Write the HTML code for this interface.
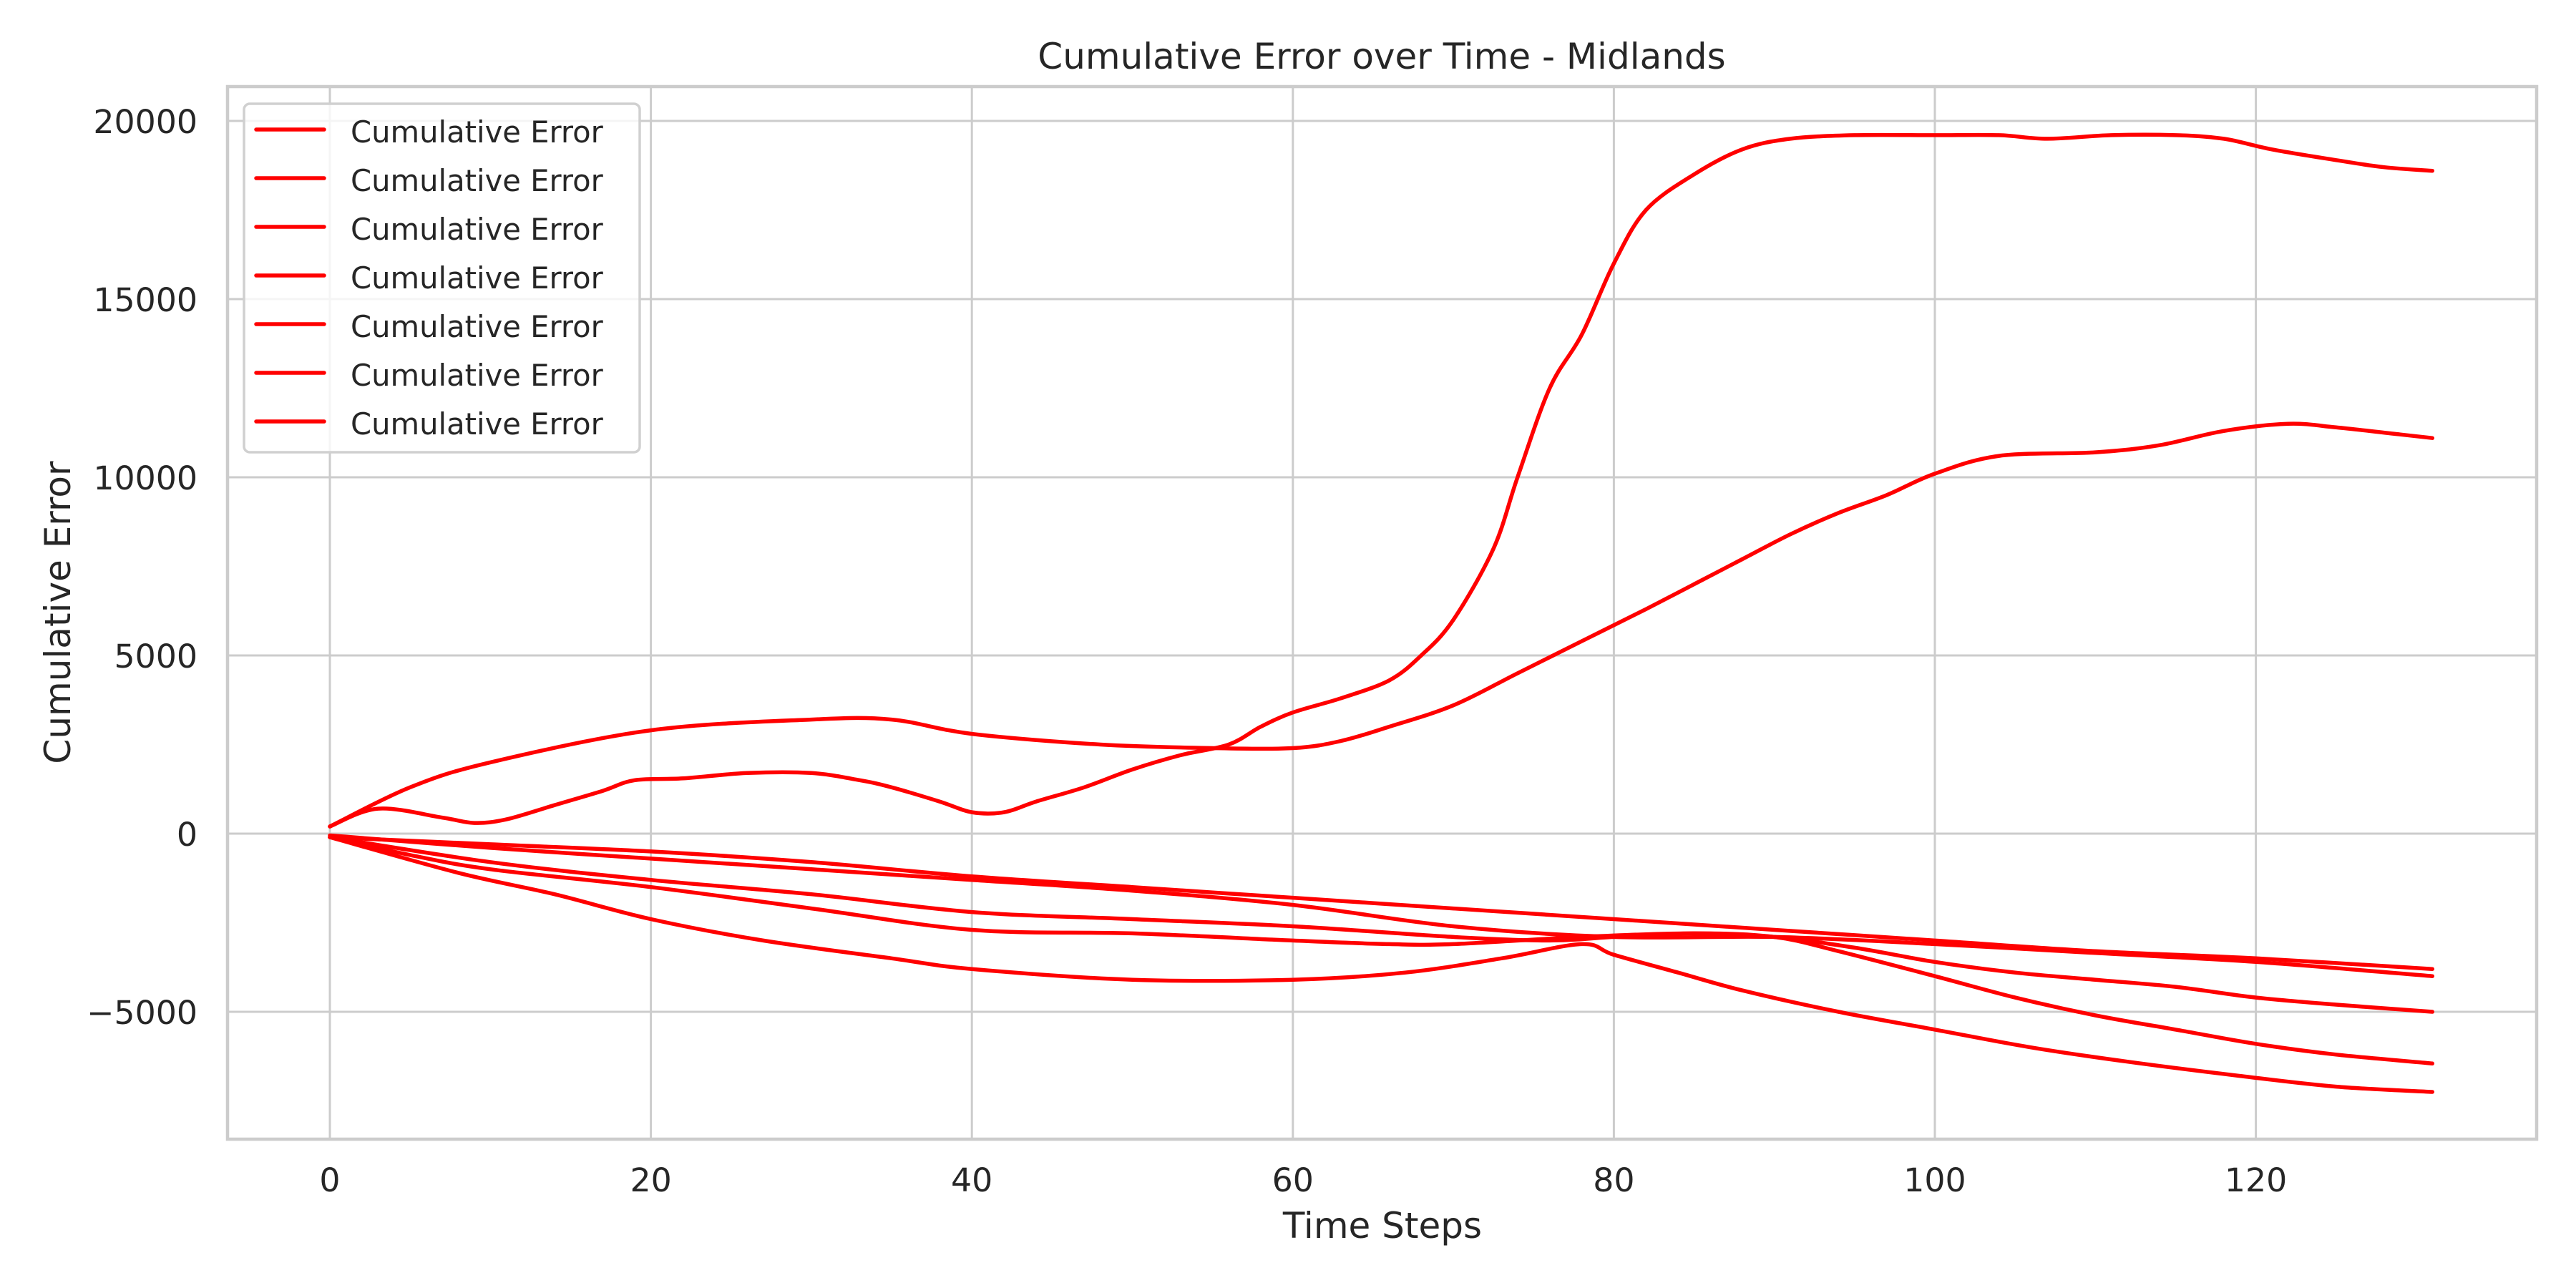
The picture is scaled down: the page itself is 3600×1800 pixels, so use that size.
<!DOCTYPE html>
<html><head><meta charset="utf-8"><style>
html,body{margin:0;padding:0;background:#fff;}
svg{display:block;font-family:"DejaVu Sans","Liberation Sans",sans-serif;}
</style></head><body>
<svg id="chart" width="3600" height="1800" viewBox="0 0 3600 1800" xmlns="http://www.w3.org/2000/svg">
<rect x="0" y="0" width="3600" height="1800" fill="#fff"/>
<g id="grid"></g>
<g id="series"></g>
<rect x="318" y="121" width="3227" height="1471" fill="none" stroke="#cccccc" stroke-width="4.5"/>
<g id="ticks" font-size="45.8" fill="#262626"></g>
<text x="1931" y="96" text-anchor="middle" font-size="50" fill="#262626">Cumulative Error over Time - Midlands</text>
<text x="1932" y="1730" text-anchor="middle" font-size="50" fill="#262626">Time Steps</text>
<text transform="translate(98,856) rotate(-90)" text-anchor="middle" font-size="50" fill="#262626">Cumulative Error</text>
<g id="legend"></g>
</svg>
<script>
const xTicks=[0,20,40,60,80,100,120];
const yTicks=[-5000,0,5000,10000,15000,20000];
const yTickLabels=["\u22125000","0","5000","10000","15000","20000"];
const seriesNames=["Cumulative Error","Cumulative Error","Cumulative Error","Cumulative Error","Cumulative Error","Cumulative Error","Cumulative Error"];
const aX=[0,3,7,9,11,14,17,19,22,26,30,33,35,38,40,42,44,47,50,53,56,58,60,63,66,68,70,72.5,74,76,78,80,82,85,88,91,95,100,104,107,111,115,118,121,125,128,131];
const aY=[200,700,450,300,400,800,1200,1500,1550,1700,1700,1500,1300,900,600,600,900,1300,1800,2200,2500,3000,3400,3800,4300,5000,6000,8000,10000,12500,14000,16000,17500,18500,19200,19500,19600,19600,19600,19500,19600,19600,19500,19200,18900,18700,18600];
const bX=[0,5,10,20,30,35,40,48,55,60,63,66,70,74,78,82,85,88,91,94,97,100,104,110,114,118,122,125,129,131];
const bY=[200,1300,2000,2900,3200,3200,2800,2500,2400,2400,2600,3000,3600,4500,5400,6300,7000,7700,8400,9000,9500,10100,10600,10700,10900,11300,11500,11400,11200,11100];
const cX=[0,10,20,30,40,50,60,70,80,90,100,110,120,131];
const cY=[-100,-300,-500,-800,-1200,-1500,-1800,-2100,-2400,-2700,-3000,-3300,-3500,-3800];
const dX=[0,10,20,30,40,50,60,70,80,90,100,110,120,131];
const dY=[-50,-400,-700,-1000,-1300,-1600,-2000,-2600,-2900,-2900,-3100,-3350,-3600,-4000];
const eX=[0,10,20,30,40,50,60,70,76,80,85,90,95,100,105,110,115,120,125,131];
const eY=[-100,-800,-1300,-1700,-2200,-2400,-2600,-2900,-3000,-2900,-2800,-2900,-3200,-3600,-3900,-4100,-4300,-4600,-4800,-5000];
const fX=[0,5,10,20,30,40,50,60,66,70,78,85,90,94,100,105,110,115,120,125,131];
const fY=[-100,-600,-1000,-1500,-2100,-2700,-2800,-3000,-3100,-3100,-2900,-2800,-2900,-3300,-4000,-4600,-5100,-5500,-5900,-6200,-6450];
const gX=[0,8,14,20,27,35,40,50,60,67,73,78,80,84,88,94,100,106,112,119,125,131];
const gY=[-100,-1100,-1700,-2400,-3000,-3500,-3800,-4100,-4100,-3900,-3500,-3100,-3400,-3900,-4400,-5000,-5500,-6000,-6400,-6800,-7100,-7250];
const allX=[aX,bX,cX,dX,eX,fX,gX], allY=[aY,bY,cY,dY,eY,fY,gY];
const NS="http://www.w3.org/2000/svg";
function sx(v){return 461+v*22.43;}
function sy(v){return 1165-v*249/5000;}
function mk(t,attrs,parent){const e=document.createElementNS(NS,t);for(const k in attrs)e.setAttribute(k,attrs[k]);parent.appendChild(e);return e;}
function smoothPath(pts){
  let d='M'+pts[0][0].toFixed(1)+' '+pts[0][1].toFixed(1);
  for(let i=0;i<pts.length-1;i++){
    const p0=pts[Math.max(0,i-1)],p1=pts[i],p2=pts[i+1],p3=pts[Math.min(pts.length-1,i+2)];
    const c1=[p1[0]+(p2[0]-p0[0])/6,p1[1]+(p2[1]-p0[1])/6];
    const c2=[p2[0]-(p3[0]-p1[0])/6,p2[1]-(p3[1]-p1[1])/6];
    d+=' C'+c1[0].toFixed(1)+' '+c1[1].toFixed(1)+' '+c2[0].toFixed(1)+' '+c2[1].toFixed(1)+' '+p2[0].toFixed(1)+' '+p2[1].toFixed(1);
  }
  return d;
}
const grid=document.getElementById('grid'),ticks=document.getElementById('ticks'),ser=document.getElementById('series'),leg=document.getElementById('legend');
xTicks.forEach(t=>{const l=mk('line',{x1:sx(t),x2:sx(t),y1:121,y2:1592,stroke:'#cccccc','stroke-width':3},grid);


const tx=mk('text',{x:sx(t),y:1665,'text-anchor':'middle'},ticks);tx.textContent=t;

});
yTicks.forEach((t,i)=>{const l=mk('line',{x1:318,x2:3545,y1:sy(t),y2:sy(t),stroke:'#cccccc','stroke-width':3},grid);


const tx=mk('text',{x:276,y:sy(t)+17,'text-anchor':'end'},ticks);tx.textContent=yTickLabels[i];

});
allX.forEach((xs,i)=>{const pts=xs.map((x,j)=>[sx(x),sy(allY[i][j])]);
const p=mk('path',{d:smoothPath(pts),fill:'none',stroke:'#ff0000','stroke-width':5.5,'stroke-linejoin':'round','stroke-linecap':'round'},ser);

});
const box=mk('rect',{x:341,y:145,width:553,height:487,rx:8,fill:'#fff','fill-opacity':0.8,stroke:'#d0d0d0','stroke-width':3.5},leg);


seriesNames.forEach((n,i)=>{const y=181+i*68;
const g=mk('g',{},leg);


mk('line',{x1:358,x2:453,y1:y,y2:y,stroke:'#ff0000','stroke-width':5.5,'stroke-linecap':'round'},g);
const t=mk('text',{x:490,y:y+18,'font-size':41.7,fill:'#262626'},g);t.textContent=n;});
</script>
</body></html>
